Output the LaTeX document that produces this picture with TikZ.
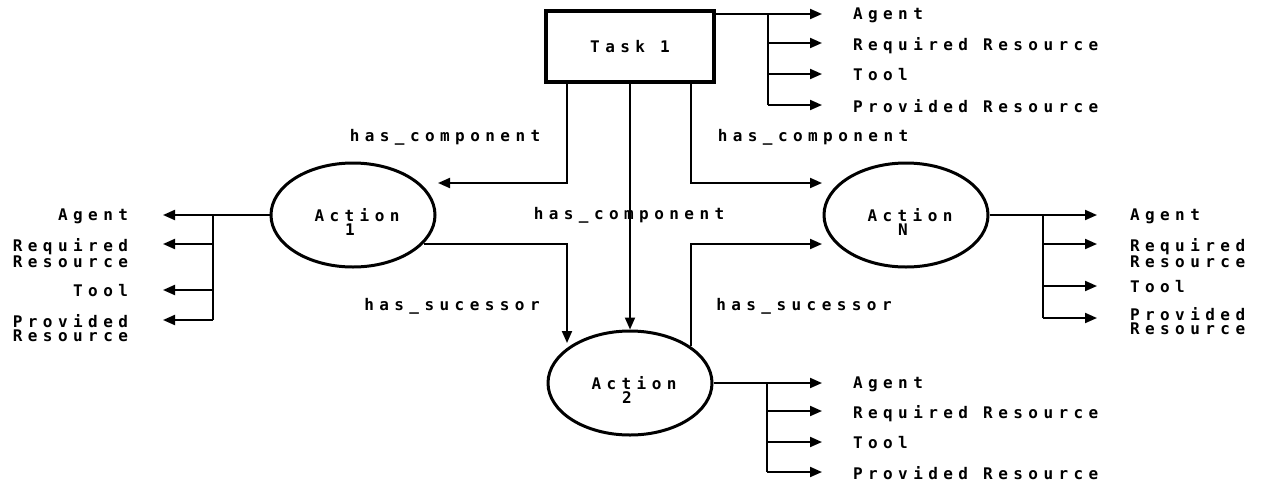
\documentclass[tikz,border=0pt]{standalone}
\usepackage{fontspec}
\newfontfamily\labfont{DejaVu Sans Mono Bold}[LetterSpace=34]
\usetikzlibrary{arrows.meta,shapes.geometric}

\tikzset{
  conn/.style={line width=2pt},
  arr/.style={conn, -{Triangle[length=12pt,width=10pt]}},
  lab/.style={inner sep=0pt, outer sep=0pt, font=\labfont\fontsize{16}{14}\selectfont},
  act/.style={ellipse, draw, line width=3pt, minimum width=164pt, minimum height=104pt,
              inner sep=0pt},
  taskbox/.style={draw, rectangle, line width=3.8pt, minimum width=168pt, minimum height=71pt,
              inner sep=0pt, font=\labfont\fontsize{16}{14}\selectfont},
  rlab/.style={lab, anchor=north west, align=left},
  llab/.style={lab, anchor=north east, align=right},
}

\begin{document}
\begin{tikzpicture}[x=1pt,y=-1pt]
\useasboundingbox[fill=white] (0,0) rectangle (1263,485);

% task and actions
\node[taskbox] (task) at (630,46.5) {Task 1};
\node[act] (a1) at (353,215) {};
\node[act] (aN) at (906,215) {};
\node[act] (a2) at (630,383) {};
\foreach \n/\num in {a1/1, aN/N, a2/2} {
  \node[lab] (\n-t) at ([xshift=4pt,yshift=0pt]\n.center) {Action};
  \node[lab] (\n-n) at ([xshift=-3pt,yshift=-15pt]\n.center) {\num};
}

% bends and free ends of the relation connectors
\coordinate (in1)  at (438,183);
\coordinate (inN)  at (822,183);
\coordinate (sucN) at (822,244);
\coordinate (in2)  at (567,343);
\coordinate (out2) at (a2.31);

\draw[arr] (task.south -| in2) |- (in1);
\draw[arr] (task.south) -- (a2.north);
\draw[arr] (task.south -| out2) |- (inN);
\draw[arr] (a1.-22) -| (in2);
\draw[arr] (out2) |- (sucN);

% relation labels
\node[lab] (hc1) at (445,137) {has\_component};
\node[lab] (hcN) at (813,137) {has\_component};
\node[lab] (hc2) at (629,215) {has\_component};
\node[lab] (hs1) at (452,306) {has\_sucessor};
\node[lab] (hsN) at (804,306) {has\_sucessor};

% attribute fan of Task 1
\coordinate (tk) at (768,0);
\coordinate (tA) at (822,14);
\coordinate (tR) at (822,43);
\coordinate (tT) at (822,74);
\coordinate (tP) at (822,105);
\draw[arr] (task.east |- tA) -- (tA);
\draw[conn] (tA -| tk) -- (tP -| tk);
\foreach \p in {tR,tT,tP} \draw[arr] (\p -| tk) -- (\p);
\node[rlab] at (853,8) {Agent};
\node[rlab] at (853,37) {Required Resource};
\node[rlab] at (853,68) {Tool};
\node[rlab] at (853,99) {Provided Resource};

% attribute fan of Action 1
\coordinate (k1) at (213,0);
\coordinate (lA) at (163,215);
\coordinate (lR) at (163,244);
\coordinate (lT) at (163,290);
\coordinate (lP) at (163,320);
\draw[arr] (a1.west) -- (lA);
\draw[conn] (lA -| k1) -- (lP -| k1);
\foreach \p in {lR,lT,lP} \draw[arr] (\p -| k1) -- (\p);
\node[llab] at (128,209) {Agent};
\node[llab] at (128,238) {Required\\Resource};
\node[llab] at (128,284) {Tool};
\node[llab] at (128,314) {Provided\\Resource};

% attribute fan of Action N
\coordinate (kN) at (1043,0);
\coordinate (nA) at (1097,215);
\coordinate (nR) at (1097,244);
\coordinate (nT) at (1097,286);
\coordinate (nP) at (1097,318);
\draw[arr] (aN.east) -- (nA);
\draw[conn] (nA -| kN) -- (nP -| kN);
\foreach \p in {nR,nT,nP} \draw[arr] (\p -| kN) -- (\p);
\node[rlab] at (1130,209) {Agent};
\node[rlab] at (1130,238) {Required\\Resource};
\node[rlab] at (1130,280) {Tool};
\node[rlab] at (1130,307) {Provided\\Resource};

% attribute fan of Action 2
\coordinate (k2) at (767,0);
\coordinate (bA) at (822,383);
\coordinate (bR) at (822,411);
\coordinate (bT) at (822,442);
\coordinate (bP) at (822,472);
\draw[arr] (a2.east) -- (bA);
\draw[conn] (bA -| k2) -- (bP -| k2);
\foreach \p in {bR,bT,bP} \draw[arr] (\p -| k2) -- (\p);
\node[rlab] at (853,377) {Agent};
\node[rlab] at (853,405) {Required Resource};
\node[rlab] at (853,436) {Tool};
\node[rlab] at (853,466) {Provided Resource};
\end{tikzpicture}
\end{document}
